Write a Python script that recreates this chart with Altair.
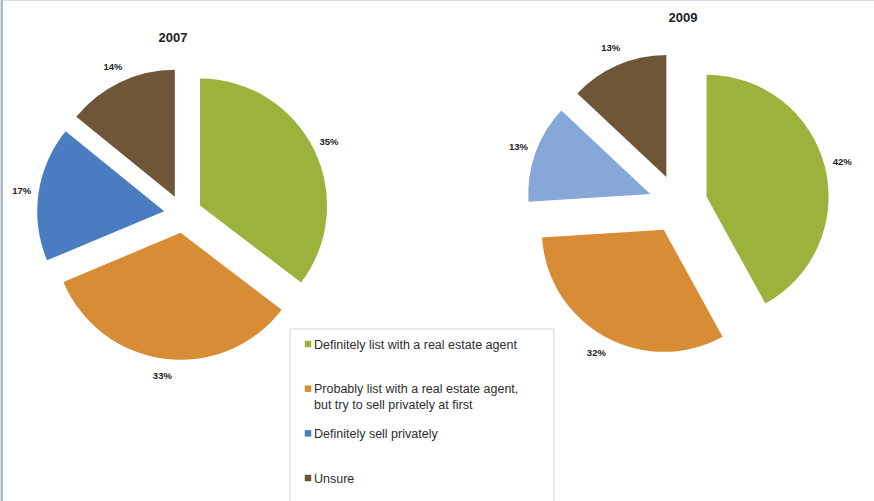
import altair as alt
import pandas as pd

categories = [
    "Definitely list with a real estate agent",
    "Probably list with a real estate agent,\nbut try to sell privately at first",
    "Definitely sell privately",
    "Unsure",
]
values_2007 = [35, 33, 17, 14]
values_2009 = [42, 32, 13, 13]
years = ["2007", "2009"]

color_domain = categories + ["Definitely sell privately (2009)"]
color_range = ["#9bb23c", "#d98c36", "#4a7cc2", "#6f5638", "#87a7d8"]
color_scale = alt.Scale(domain=color_domain, range=color_range)

FONT = "Liberation Sans"


def pie(year, values, cx, cy, r, d, lab_gap):
    df = pd.DataFrame({
        "year": year,
        "cat": categories,
        "idx": list(range(len(categories))),
        "value": values,
    })
    base = (
        alt.Chart(df)
        .transform_joinaggregate(total="sum(value)")
        .transform_window(cum="sum(value)", sort=[alt.SortField("idx")], frame=[None, 0])
        .transform_calculate(
            t1="2*PI*datum.cum/datum.total",
            t0="2*PI*(datum.cum-datum.value)/datum.total",
        )
        .transform_calculate(mid="(datum.t0+datum.t1)/2")
        .transform_calculate(
            px=f"{cx}+{d}*sin(datum.mid)",
            py=f"{cy}-{d}*cos(datum.mid)",
            lx=f"{cx}+{d + r + lab_gap}*sin(datum.mid)",
            ly=f"{cy}-{d + r + lab_gap}*cos(datum.mid)",
            key=f"(datum.year=='2009' && datum.idx==2) ? 'Definitely sell privately (2009)' : datum.cat",
            lab="datum.value + '%'",
        )
    )
    arcs = base.mark_arc(radius=r).encode(
        theta=alt.Theta("t0:Q", scale=None, stack=None),
        theta2="t1:Q",
        x=alt.X("px:Q", scale=None, axis=None),
        y=alt.Y("py:Q", scale=None, axis=None),
        color=alt.Color("key:N", scale=color_scale, legend=None),
    )
    labels = base.mark_text(font=FONT, fontSize=9.5, fontWeight="bold", color="#222",
                            align="center", baseline="middle").encode(
        x=alt.X("lx:Q", scale=None, axis=None),
        y=alt.Y("ly:Q", scale=None, axis=None),
        text="lab:N",
    )
    return arcs + labels


def title(text, x, y):
    return alt.Chart(alt.Data(values=[{"t": text}])).mark_text(
        font=FONT, fontSize=13, fontWeight="bold", color="#222", align="center", baseline="middle"
    ).encode(x=alt.value(x), y=alt.value(y), text="t:N")


pie07 = pie("2007", values_2007, 183, 214, 127, 19, 17)
pie09 = pie("2009", values_2009, 678, 204, 122, 29.5, 18)

border = alt.Chart(alt.Data(values=[{}])).mark_rule(color="#aab8cc", strokeWidth=2).encode(
    x=alt.value(2), y=alt.value(0), y2=alt.value(501)
)

legend_box = alt.Chart(alt.Data(values=[{}])).mark_rect(
    fill="white", stroke="#d4d4d4", strokeWidth=1
).encode(x=alt.value(290), x2=alt.value(554), y=alt.value(329), y2=alt.value(510))

leg_df = pd.DataFrame({"cat": categories})
leg_y = alt.Y("cat:N", scale=alt.Scale(domain=categories, range=[344, 478], padding=0), axis=None)
leg_sq = alt.Chart(leg_df).mark_square(size=42, opacity=1).encode(
    x=alt.value(308), y=leg_y,
    color=alt.Color("cat:N", scale=color_scale, legend=None),
)
leg_tx = alt.Chart(leg_df).mark_text(
    font=FONT, fontSize=12.5, color="#2e2e2e", align="left", baseline="alphabetic",
    dy=4.5, lineBreak="\n", lineHeight=16
).encode(x=alt.value(314), y=leg_y, text="cat:N")
legend = (leg_sq + leg_tx)

chart = (
    alt.layer(
        border, pie07, pie09, legend_box, legend,
        title("2007", 173, 38), title("2009", 683, 18),
    )
    .resolve_scale(x="independent", y="independent")
    .properties(width=874, height=501, padding=0, autosize=alt.AutoSizeParams(type="none"))
    .configure_view(stroke=None)
    .configure(background="white")
)

chart.save("out.html", embed_options={"renderer": "svg", "actions": False})
